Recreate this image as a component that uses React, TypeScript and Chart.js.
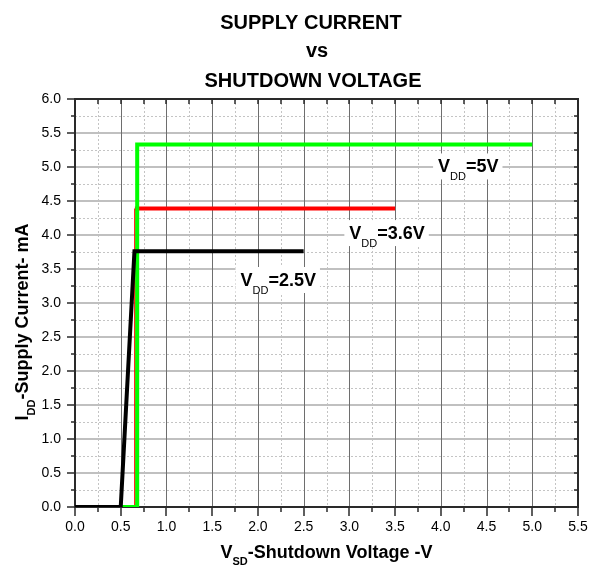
import { useEffect, useRef } from 'react';
import { Chart, registerables } from 'chart.js';

Chart.register(...registerables);

// ---- Data ----
const titleLines = ['SUPPLY CURRENT', 'vs', 'SHUTDOWN VOLTAGE'];
const xTickValues = [0, 0.5, 1, 1.5, 2, 2.5, 3, 3.5, 4, 4.5, 5, 5.5];
const yTickValues = [0, 0.5, 1, 1.5, 2, 2.5, 3, 3.5, 4, 4.5, 5, 5.5, 6];

const vdd25X = [0, 0.5, 0.65, 2.5];
const vdd25Y = [0, 0, 3.76, 3.76];
const vdd36X = [0, 0.65, 0.655, 3.5];
const vdd36Y = [0, 0, 4.39, 4.39];
const vdd5X = [0, 0.68, 0.68, 5.0];
const vdd5Y = [0, 0, 5.33, 5.33];

const seriesNames = ['=2.5V', '=3.6V', '=5V'];

const FONT = "'Liberation Sans', Arial, sans-serif";

function toPoints(xs: number[], ys: number[]) {
  return xs.map((x, i) => ({ x, y: ys[i] }));
}

type Part = { t: string; sub?: boolean };

function drawParts(
  ctx: CanvasRenderingContext2D,
  parts: Part[],
  x: number,
  y: number,
  mainFont: string,
  subFont: string,
  subDy: number,
  align: 'left' | 'center'
) {
  let total = 0;
  const widths = parts.map((p) => {
    ctx.font = p.sub ? subFont : mainFont;
    const w = ctx.measureText(p.t).width;
    total += w;
    return w;
  });
  let cx = align === 'center' ? x - total / 2 : x;
  ctx.textAlign = 'left';
  ctx.textBaseline = 'alphabetic';
  parts.forEach((p, i) => {
    ctx.font = p.sub ? subFont : mainFont;
    ctx.fillText(p.t, cx, p.sub ? y + subDy : y);
    cx += widths[i];
  });
  return { start: align === 'center' ? x - total / 2 : x, width: total };
}

const gridPlugin = {
  id: 'customGrid',
  beforeDatasetsDraw(chart: any) {
    const { ctx, chartArea: a, scales } = chart;
    const xs = scales.x;
    const ys = scales.y;
    ctx.save();
    // minor dotted grid
    ctx.strokeStyle = '#c4c4c4';
    ctx.lineWidth = 1;
    ctx.setLineDash([2, 2]);
    for (let v = 0.25; v < 5.5; v += 0.5) {
      const px = Math.round(xs.getPixelForValue(v)) + 0.5;
      ctx.beginPath();
      ctx.moveTo(px, a.top);
      ctx.lineTo(px, a.bottom);
      ctx.stroke();
    }
    for (let v = 0.25; v < 6; v += 0.5) {
      const py = Math.round(ys.getPixelForValue(v)) + 0.5;
      ctx.beginPath();
      ctx.moveTo(a.left, py);
      ctx.lineTo(a.right, py);
      ctx.stroke();
    }
    ctx.setLineDash([]);
    // major horizontal grid
    ctx.strokeStyle = '#c0c0c0';
    ctx.lineWidth = 2;
    yTickValues.forEach((v) => {
      if (v === 0 || v === 6) return;
      const py = Math.round(ys.getPixelForValue(v));
      ctx.beginPath();
      ctx.moveTo(a.left, py);
      ctx.lineTo(a.right, py);
      ctx.stroke();
    });
    // major vertical grid
    ctx.strokeStyle = '#6e6e6e';
    ctx.lineWidth = 1;
    xTickValues.forEach((v) => {
      if (v === 0 || v === 5.5) return;
      const px = Math.round(xs.getPixelForValue(v)) + 0.5;
      ctx.beginPath();
      ctx.moveTo(px, a.top);
      ctx.lineTo(px, a.bottom);
      ctx.stroke();
    });
    // frame
    ctx.strokeStyle = '#2a2a2a';
    ctx.lineWidth = 2;
    ctx.strokeRect(a.left, a.top, a.right - a.left, a.bottom - a.top);
    // ticks
    ctx.lineWidth = 1.5;
    for (let i = 0; i <= 22; i++) {
      const v = i * 0.25;
      const major = i % 2 === 0;
      const px = Math.round(xs.getPixelForValue(v));
      ctx.beginPath();
      ctx.moveTo(px, a.bottom);
      ctx.lineTo(px, a.bottom + (major ? 9 : 5));
      ctx.moveTo(px, a.top);
      ctx.lineTo(px, a.top + 5);
      ctx.stroke();
    }
    for (let i = 0; i <= 24; i++) {
      const v = i * 0.25;
      const major = i % 2 === 0;
      const py = Math.round(ys.getPixelForValue(v));
      ctx.beginPath();
      ctx.moveTo(a.left, py);
      ctx.lineTo(a.left - (major ? 8 : 4), py);
      ctx.moveTo(a.right, py);
      ctx.lineTo(a.right - 4, py);
      ctx.stroke();
    }
    // series labels (white boxes over the grid)
    const mainF = `bold 18px ${FONT}`;
    const subF = `11px ${FONT}`;
    const anchors = [
      { x: 1.81, y: 3.25 },
      { x: 3.0, y: 3.94 },
      { x: 3.97, y: 4.92 },
    ];
    seriesNames.forEach((name, i) => {
      const px = xs.getPixelForValue(anchors[i].x);
      const py = ys.getPixelForValue(anchors[i].y);
      ctx.font = mainF;
      const w1 = ctx.measureText('V').width + ctx.measureText(name).width;
      ctx.font = subF;
      const w2 = ctx.measureText('DD').width;
      ctx.fillStyle = '#ffffff';
      ctx.fillRect(px - 5, py - 19, w1 + w2 + 9, 26);
      ctx.fillStyle = '#000000';
      drawParts(ctx, [{ t: 'V' }, { t: 'DD', sub: true }, { t: name }], px, py, mainF, subF, 7.5, 'left');
    });
    ctx.restore();
  },
  afterDraw(chart: any) {
    const { ctx, chartArea: a } = chart;
    ctx.save();
    ctx.fillStyle = '#000000';
    const tf = `bold 20px ${FONT}`;
    ctx.font = tf;
    ctx.textAlign = 'center';
    ctx.textBaseline = 'alphabetic';
    ctx.fillText(titleLines[0], 311, 29);
    ctx.fillText(titleLines[1], 317, 57);
    ctx.fillText(titleLines[2], 313, 87);
    // x axis title
    const mainF = `bold 18px ${FONT}`;
    const subF = `bold 11px ${FONT}`;
    drawParts(
      ctx,
      [{ t: 'V' }, { t: 'SD', sub: true }, { t: '-Shutdown Voltage -V' }],
      (a.left + a.right) / 2,
      558,
      mainF,
      subF,
      7,
      'center'
    );
    // y axis title
    ctx.save();
    ctx.translate(28, 322);
    ctx.rotate(-Math.PI / 2);
    drawParts(
      ctx,
      [{ t: 'I' }, { t: 'DD', sub: true }, { t: '-Supply Current- mA' }],
      0,
      0,
      mainF,
      subF,
      7,
      'center'
    );
    ctx.restore();
    ctx.restore();
  },
};

export default function App() {
  const ref = useRef<HTMLCanvasElement | null>(null);
  useEffect(() => {
    if (!ref.current) return;
    const tickFont = { family: FONT, size: 14 };
    const chart = new Chart(ref.current, {
      type: 'line',
      data: {
        datasets: [
          {
            label: 'VDD=2.5V',
            data: toPoints(vdd25X, vdd25Y),
            borderColor: '#000000',
            borderWidth: 4,
            pointRadius: 0,
            tension: 0,
          },
          {
            label: 'VDD=5V',
            data: toPoints(vdd5X, vdd5Y),
            borderColor: '#00ff00',
            borderWidth: 4,
            pointRadius: 0,
            tension: 0,
          },
          {
            label: 'VDD=3.6V',
            data: toPoints(vdd36X, vdd36Y),
            borderColor: '#ff0000',
            borderWidth: 4,
            pointRadius: 0,
            tension: 0,
            segment: {
              borderWidth: (c: any) => (c.p0DataIndex === 1 ? 1.5 : 4),
            },
          } as any,
        ],
      },
      options: {
        responsive: false,
        animation: false,
        events: [],
        layout: { padding: { top: 99, right: 0, left: 0, bottom: 0 } },
        plugins: {
          legend: { display: false },
          tooltip: { enabled: false },
          title: { display: false },
        },
        scales: {
          x: {
            type: 'linear',
            min: 0,
            max: 5.5,
            grid: { display: false, drawTicks: false },
            border: { display: false },
            ticks: {
              stepSize: 0.5,
              autoSkip: false,
              maxRotation: 0,
              padding: 12,
              color: '#000000',
              font: tickFont,
              callback: (v: any) => Number(v).toFixed(1),
            },
            afterFit: (s: any) => {
              s.height = 59;
              s.paddingLeft = 0;
              s.paddingRight = 11;
            },
          },
          y: {
            type: 'linear',
            min: 0,
            max: 6,
            grid: { display: false, drawTicks: false },
            border: { display: false },
            ticks: {
              stepSize: 0.5,
              autoSkip: false,
              padding: 14,
              color: '#000000',
              font: tickFont,
              callback: (v: any) => Number(v).toFixed(1),
            },
            afterFit: (s: any) => {
              s.width = 75;
              s.paddingTop = 0;
              s.paddingBottom = 0;
            },
          },
        },
      },
      plugins: [gridPlugin],
    });
    return () => chart.destroy();
  }, []);
  return (
    <div style={{ position: 'absolute', left: 0, top: 0, width: 589, height: 566, background: '#fff' }}>
      <canvas ref={ref} width={589} height={566} style={{ display: 'block' }} />
    </div>
  );
}
